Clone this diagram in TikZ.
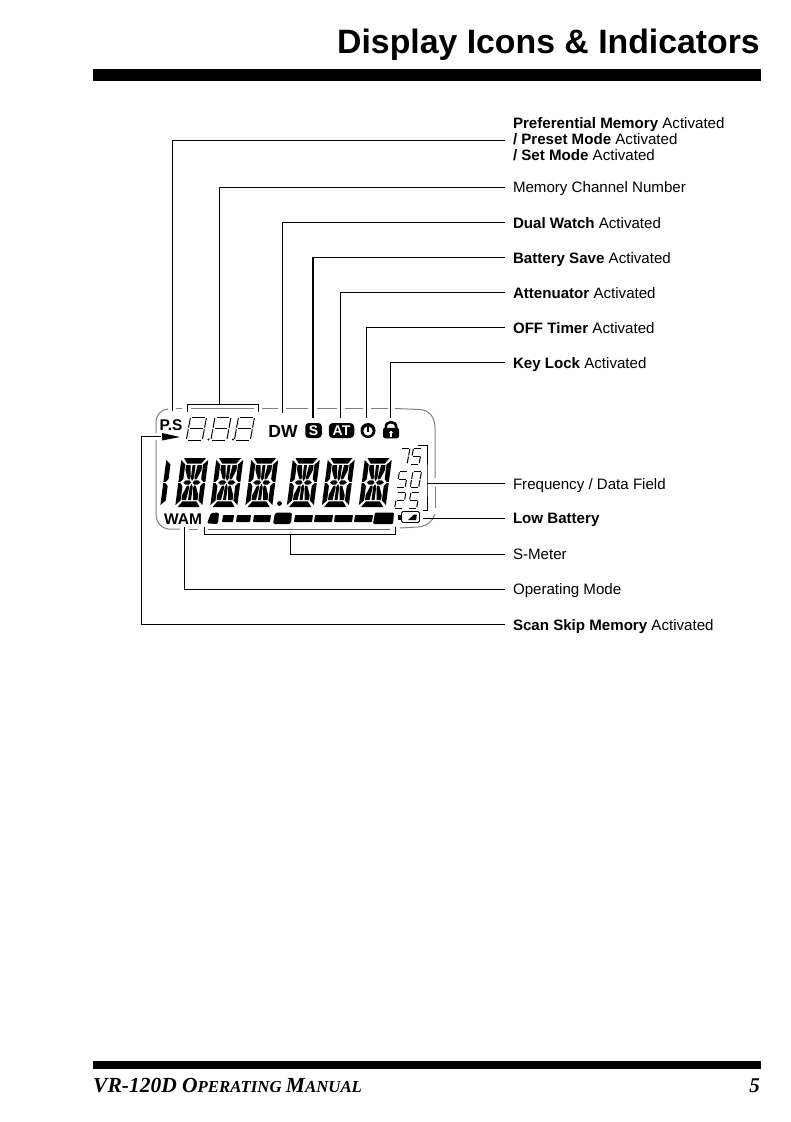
\documentclass[tikz,border=0pt]{standalone}
\usepackage{fontspec}
\setmainfont{Liberation Sans}
\newfontfamily\serifbi[BoldItalicFont={Liberation Serif Bold Italic}]{Liberation Serif}
\usetikzlibrary{calc}
\tikzset{
  x=1pt,y=-1pt,
  leader/.style={draw=black,line width=0.9pt},
  thickleader/.style={draw=black,line width=2pt},
  lab/.style={anchor=west,inner xsep=8pt,inner ysep=0pt,outer sep=0pt,font=\fontsize{15.1}{16}\selectfont,text height=14pt,text depth=3pt,align=left},
  frameline/.style={draw=black!50,line width=1pt},
  icon/.style={inner sep=0pt,outer sep=0pt},
  strokeseg/.style={draw=black,line width=1pt},
}
\newcommand\sega[1]{\path[#1] (1,0)--(9,0);}
\newcommand\segd[1]{\path[#1] (1,20)--(9,20);}
\newcommand\segg[1]{\path[#1] (1,10)--(9,10);}
\newcommand\segf[1]{\path[#1] (0,1)--(0,9.3);}
\newcommand\sege[1]{\path[#1] (0,10.7)--(0,19);}
\newcommand\segb[1]{\path[#1] (10,1)--(10,9.3);}
\newcommand\segc[1]{\path[#1] (10,10.7)--(10,19);}
\newcommand\sevenseg[5]{\begin{scope}[shift={(#1,#2)},xslant=.18,xscale=#3/10,yscale=#4/20]
  \foreach \s in {#5}{\csname seg\s\endcsname{strokeseg}}\end{scope}}
\newcommand\bigdigit[2]{\begin{scope}[shift={(#1,#2)},xslant=.13]
  \fill (2.5,0)--(24.5,0)--(20.5,5.7)--(6.5,5.7)--cycle;
  \fill (2.5,49)--(24.5,49)--(20.5,43.3)--(6.5,43.3)--cycle;
  \fill (0,2)--(4.6,6.5)--(4.6,21)--(2.2,23.9)--(0,23.9)--cycle;
  \fill (0,47)--(4.6,42.5)--(4.6,28)--(2.2,25.1)--(0,25.1)--cycle;
  \fill (27,2)--(22.4,6.5)--(22.4,21)--(24.8,23.9)--(27,23.9)--cycle;
  \fill (27,47)--(22.4,42.5)--(22.4,28)--(24.8,25.1)--(27,25.1)--cycle;
  \fill (12,7)--(15,7)--(15,20)--(13.5,23)--(12,20)--cycle;
  \fill (12,42)--(15,42)--(15,29)--(13.5,26)--(12,29)--cycle;
  \fill (5,24.5)--(7.5,22.3)--(11,22.3)--(12.7,24.5)--(11,26.7)--(7.5,26.7)--cycle;
  \fill (22,24.5)--(19.5,22.3)--(16,22.3)--(14.3,24.5)--(16,26.7)--(19.5,26.7)--cycle;
  \fill (5.5,7)--(10,7)--(11.5,19)--(11,21.5)--(9,21)--(5.5,12)--cycle;
  \fill (21.5,7)--(17,7)--(15.5,19)--(16,21.5)--(18,21)--(21.5,12)--cycle;
  \fill (5.5,42)--(10,42)--(11.5,30)--(11,27.5)--(9,28)--(5.5,37)--cycle;
  \fill (21.5,42)--(17,42)--(15.5,30)--(16,27.5)--(18,28)--(21.5,37)--cycle;
\end{scope}}
\begin{document}
\begin{tikzpicture}[x=1pt,y=-1pt]
\useasboundingbox (0,0) rectangle (791,1122);
% header and footer
\node[anchor=base east,inner sep=0pt,font=\fontsize{33.8}{35}\selectfont\bfseries] (title) at (760,53) {Display Icons \& Indicators};
\fill (93,69) rectangle (761,81);
\fill (93,1061) rectangle (761,1069);
\node[anchor=base west,inner sep=0pt,font=\serifbi\bfseries\itshape] (foot) at (93,1092) {\fontsize{21.5}{21}\selectfont VR-120D O\fontsize{16.8}{15}\selectfont PERATING \fontsize{21.5}{21}\selectfont M\fontsize{16.8}{15}\selectfont ANUAL};
\node[anchor=base east,inner sep=0pt,font=\serifbi\bfseries\itshape\fontsize{21}{21}\selectfont] (page) at (760,1092) {5};
% labels
\node[lab] (lpref) at (505,154.5) {\textbf{Preferential Memory} Activated\\\textbf{/ Preset Mode} Activated\\\textbf{/ Set Mode} Activated};
\node[lab] (lchan) at (505,187) {Memory Channel Number};
\node[lab] (ldual) at (505,222.5) {\textbf{Dual Watch} Activated};
\node[lab] (lbatt) at (505,257.5) {\textbf{Battery Save} Activated};
\node[lab] (latt) at (505,292.5) {\textbf{Attenuator} Activated};
\node[lab] (loff) at (505,327.5) {\textbf{OFF Timer} Activated};
\node[lab] (lkey) at (505,362.5) {\textbf{Key Lock} Activated};
\node[lab] (lfreq) at (505,483.5) {Frequency / Data Field};
\node[lab] (llow) at (505,518) {\textbf{Low Battery}};
\node[lab] (lsm) at (505,554) {S-Meter};
\node[lab] (lop) at (505,589) {Operating Mode};
\node[lab] (lscan) at (505,624.5) {\textbf{Scan Skip Memory} Activated};
% LCD frame
\draw[frameline] (156,433) -- (156,424) .. controls (156,415) and (160,410) .. (168,409);
\draw[frameline] (156,440) -- (156,516) .. controls (157,523) and (161,528) .. (168,529) -- (180,529);
\draw[frameline] (176,408.5)--(182,408.5) (191,408.5)--(254,408.5) (262,408.5)--(278,408.5) (286,408.5)--(308,408.5) (317,408.5)--(337,408.5) (345,408.5)--(363,408.5) (371,408.5)--(388,408.5);
\draw[frameline] (395,408.5)--(420,409.5) .. controls (429,410) and (435,417) .. (435,428) -- (435,478);
\draw[frameline] (435,487) -- (435,508);
\draw[frameline] (435,514) .. controls (432,522) and (427,526) .. (418,527) -- (400,528);
\draw[frameline] (189,529)--(198,529);
\draw[draw=black!60,line width=0.9pt] (208,529.3)--(390,529.3);
% icons
\node[icon,font=\fontsize{15.5}{15.5}\selectfont\bfseries] (ps) at (171,425) {P.S};
\path[fill=black] (162,433) -- (180,437) -- (162,440.5) -- cycle;
\coordinate (skip) at (161,436);
\foreach \x in {190.5,215,238.5}{\sevenseg{\x}{417}{16}{23}{a,b,c,d,e,f,g}}
\fill (208.5,439.5) circle (1.1) (233,439.5) circle (1.1);
\node[icon,font=\fontsize{17.5}{17.5}\selectfont\bfseries] (dw) at (283,431) {DW};
\node[fill=black,rounded corners=3.5pt,minimum width=16.5pt,minimum height=15pt,inner sep=0pt,text=white,font=\fontsize{14}{14}\selectfont\bfseries] (si) at (313.5,430.5) {S};
\node[fill=black,rounded corners=4pt,minimum width=25.5pt,minimum height=15pt,inner sep=0pt,text=white,font=\fontsize{14}{14}\selectfont\bfseries] (at) at (341.5,430.5) {AT};
\node[circle,fill=black,minimum size=15pt,inner sep=0pt] (timer) at (368,430.5) {};
\fill[white] (368,431) circle (4.6);
\fill (366.8,424.5) rectangle (369.2,432);
\node[fill=black,rounded corners=2pt,minimum width=16pt,minimum height=10.5pt,inner sep=0pt] (lock) at (391,433) {};
\draw[line width=2.6pt] (385.8,429) -- (385.8,427) .. controls (385.8,420.5) and (396.2,420.5) .. (396.2,427) -- (396.2,429);
\fill[white] (391,432.5) circle (1.8);
\fill[white] (390.2,432.5) rectangle (391.8,436.5);
% big digits
\begin{scope}[shift={(166.5,458)},xslant=.13]
  \fill (0,2)--(4.8,6.5)--(4.8,21)--(2.2,23.9)--(0,23.9)--cycle;
  \fill (0,47)--(4.8,42.5)--(4.8,28)--(2.2,25.1)--(0,25.1)--cycle;
\end{scope}
\foreach \x in {181.5,216.5,251.5,293,328,365}{\bigdigit{\x}{458}}
\fill (279.5,503.5) circle (2.4);
% right small digits
\sevenseg{401.5}{448}{8.5}{16}{a,b,c}
\sevenseg{413.5}{448}{8.5}{16}{a,f,g,c,d}
\sevenseg{399.5}{471.5}{8.5}{16}{a,f,g,c,d}
\sevenseg{413}{471.5}{8.5}{16}{a,b,c,d,e,f}
\sevenseg{397.5}{492}{8.5}{16}{a,b,g,e,d}
\sevenseg{411}{492}{8.5}{16}{a,f,g,c,d}
% bottom row
\node[icon,font=\fontsize{15.5}{15.5}\selectfont\bfseries] (wam) at (183,519) {WAM};
\fill[rounded corners=1.5pt] (207,523.5)--(211,513)--(219,512.5)--(218,524)--cycle;
\fill[rounded corners=0.6pt] (223,515)--(234,515)--(233,522)--(222,522)--cycle;
\fill[rounded corners=0.6pt] (237,515)--(251,515)--(250,522)--(236,522)--cycle;
\fill[rounded corners=0.6pt] (254,515)--(271,515)--(270,522)--(253,522)--cycle;
\fill[rounded corners=2pt] (275,512.5)--(292,512.5)--(291,524)--(273,524)--cycle;
\foreach \a in {295,315,335,355}{\fill[rounded corners=0.6pt] (\a,515) -- (\a+18,515) -- (\a+17,522) -- (\a-1,522) -- cycle;}
\fill[rounded corners=1pt] (375,512.5) -- (394,512.5) -- (393,524) -- (373,524) -- cycle;
% battery
\node[draw=black,line width=0.9pt,rounded corners=1.5pt,minimum width=18pt,minimum height=11pt,inner sep=0pt] (bat) at (410.5,517) {};
\fill (398,514.5) rectangle (401.5,519.5);
\fill (408,520) -- (414,514.5) -- (417,514.5) -- (416,520) -- cycle;
% connectors
\coordinate (pstop) at (172,411);
\draw[leader] ([yshift=14.5pt]lpref.west) -| (pstop);
\coordinate (brL) at (187,412); \coordinate (brM) at (219,404.5); \coordinate (brR) at (258,412);
\draw[leader] (lchan.west) -| (brM);
\draw[leader] (brL) |- (brM) -| (brR);
\coordinate (dwTop) at (282,413);
\draw[leader] ([yshift=.5pt]ldual.west) -| (dwTop);
\coordinate (sTop) at (313,417.5);
\draw[leader] ([yshift=.5pt]lbatt.west) -- ++(-192,0);
\draw[thickleader] ([yshift=.5pt,xshift=-192pt]lbatt.west) -- (sTop);
\coordinate (atTop) at (340.5,417.5);
\draw[leader] ([yshift=.5pt]latt.west) -| (atTop);
\coordinate (timTop) at (366,417.5);
\draw[leader] ([yshift=.5pt]loff.west) -| (timTop);
\coordinate (lockTop) at (390,417.5);
\draw[leader] ([yshift=.5pt]lkey.west) -| (lockTop);
\coordinate (fTop) at (418,445); \coordinate (fMid) at (427,483.5); \coordinate (fBot) at (423,510.5);
\draw[leader] (fTop) -| (fMid) |- (fBot);
\draw[leader] (lfreq.west) -- (fMid);
\draw[leader] (llow.west) -- ++(-82,0) coordinate (lowEnd);
\coordinate (smL) at (204,527); \coordinate (smM) at (290.5,534.5); \coordinate (smR) at (395,527);
\draw[leader] (smL) |- (smM) -| (smR);
\draw[leader] (lsm.west) -| (smM);
\coordinate (opTop) at (184,527);
\draw[leader] (lop.west) -| (opTop);
\coordinate (scanCorner) at (141,436);
\draw[leader] (lscan.west) -| (scanCorner) -- (skip);
\end{tikzpicture}
\end{document}
